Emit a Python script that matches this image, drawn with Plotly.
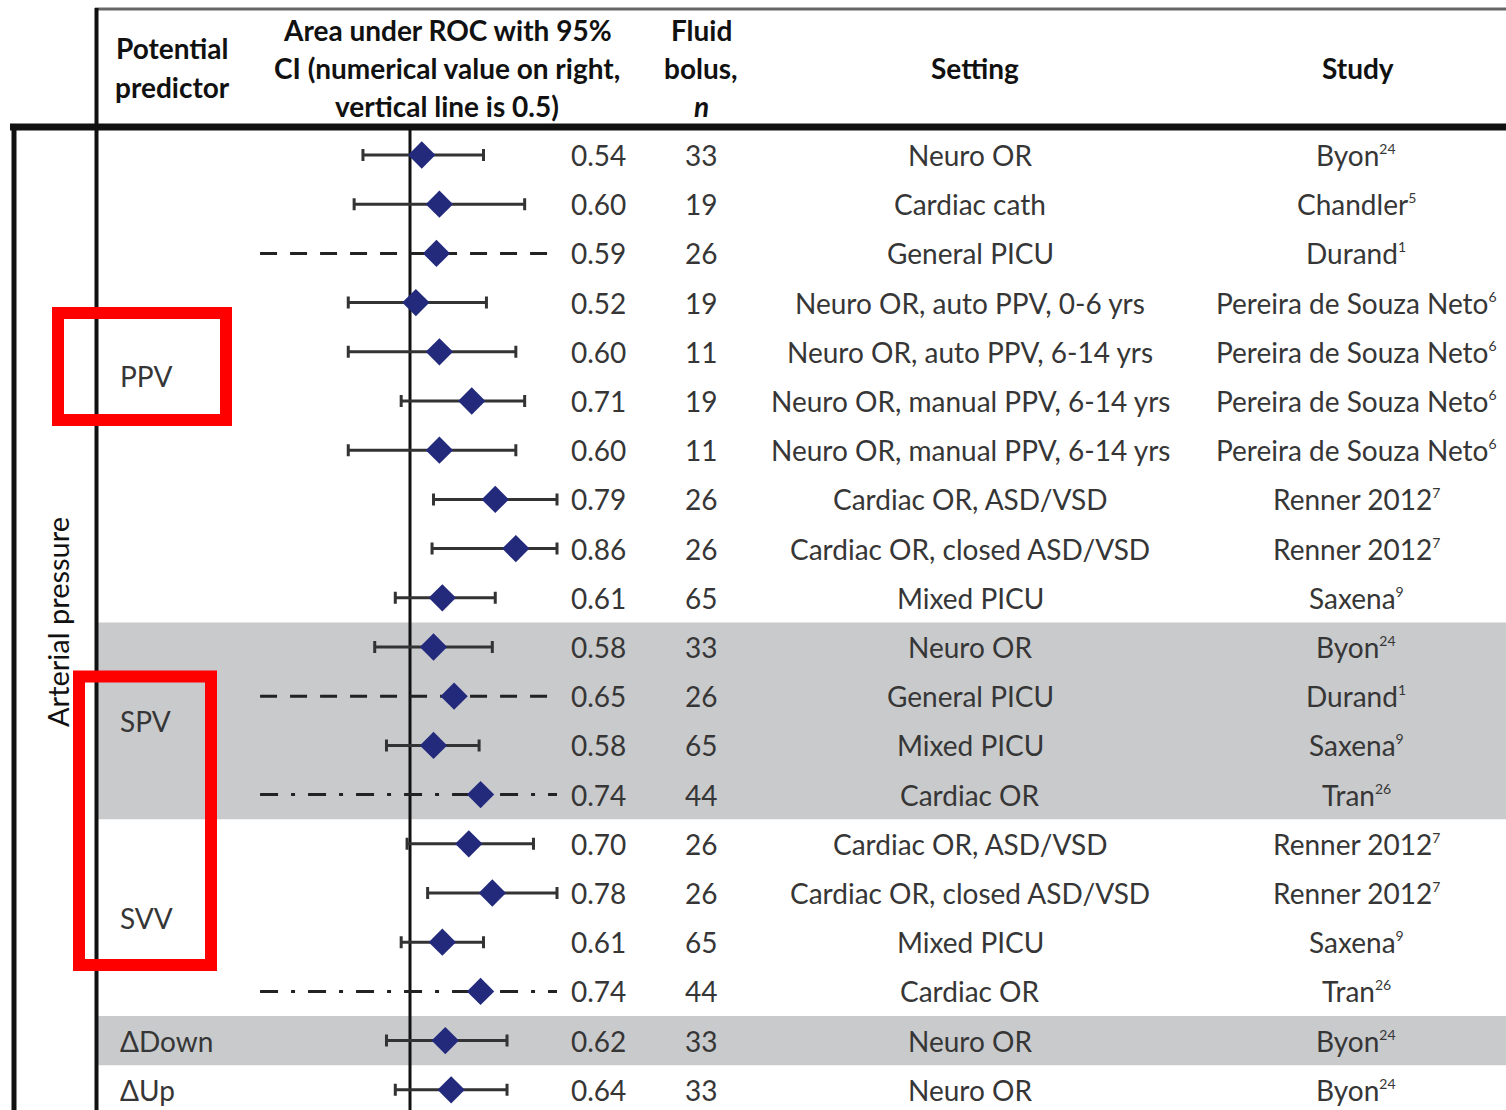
import plotly.graph_objects as go

# ---- data -------------------------------------------------------------
auc = [0.54, 0.60, 0.59, 0.52, 0.60, 0.71, 0.60, 0.79, 0.86, 0.61,
       0.58, 0.65, 0.58, 0.74, 0.70, 0.78, 0.61, 0.74, 0.62, 0.64]
ci_lo = [0.34, 0.31, None, 0.29, 0.29, 0.47, 0.29, 0.58, 0.575, 0.45,
         0.38, None, 0.42, None, 0.49, 0.56, 0.47, None, 0.42, 0.45]
ci_hi = [0.75, 0.89, None, 0.76, 0.86, 0.89, 0.86, 1.00, 1.00, 0.79,
         0.78, None, 0.735, None, 0.92, 1.00, 0.75, None, 0.83, 0.83]
# how the interval is drawn: reported CI, or a placeholder when not reported
ci_kind = ["ci", "ci", "dash", "ci", "ci", "ci", "ci", "ci", "ci", "ci",
           "ci", "dash", "ci", "dashdot", "ci", "ci", "ci", "dashdot", "ci", "ci"]
bolus_n = [33, 19, 26, 19, 11, 19, 11, 26, 26, 65,
           33, 26, 65, 44, 26, 26, 65, 44, 33, 33]
setting = [
    "Neuro OR", "Cardiac cath", "General PICU",
    "Neuro OR, auto PPV, 0-6 yrs", "Neuro OR, auto PPV, 6-14 yrs",
    "Neuro OR, manual PPV, 6-14 yrs", "Neuro OR, manual PPV, 6-14 yrs",
    "Cardiac OR, ASD/VSD", "Cardiac OR, closed ASD/VSD", "Mixed PICU",
    "Neuro OR", "General PICU", "Mixed PICU", "Cardiac OR",
    "Cardiac OR, ASD/VSD", "Cardiac OR, closed ASD/VSD", "Mixed PICU", "Cardiac OR",
    "Neuro OR", "Neuro OR",
]
study_author = [
    "Byon", "Chandler", "Durand",
    "Pereira de Souza Neto", "Pereira de Souza Neto",
    "Pereira de Souza Neto", "Pereira de Souza Neto",
    "Renner 2012", "Renner 2012", "Saxena",
    "Byon", "Durand", "Saxena", "Tran",
    "Renner 2012", "Renner 2012", "Saxena", "Tran",
    "Byon", "Byon",
]
study_ref = ["24", "5", "1", "6", "6", "6", "6", "7", "7", "9",
             "24", "1", "9", "26", "7", "7", "9", "26", "24", "24"]
# predictor groups: (label, first row, last row, shaded)
groups = [("PPV", 0, 9, False), ("SPV", 10, 13, True), ("SVV", 14, 17, False),
          ("ΔDown", 18, 18, True), ("ΔUp", 19, 19, False)]
category = "Arterial pressure"
reference_auc = 0.5

# ---- layout helpers ---------------------------------------------------
W, H = 1506, 1110
FONT = "Lato"
FS = 28
TXT = "#363636"
ROW0_PX, ROW_STEP = 155.0, 49.2      # pixel centre of first row, row pitch
X_PER_AUC, X_AT_HALF = 294.0, 410.0  # horizontal scale of the forest column
NO_CI_SPAN = (-0.01, 1.0)            # placeholder line when no CI reported


def px(x):
    return x / W


def py(y):
    return 1 - y / H


rows = list(range(len(auc)))
fig = go.Figure()

# reported confidence intervals with end caps
ci_rows = [r for r in rows if ci_kind[r] == "ci"]
fig.add_trace(go.Scatter(
    x=[auc[r] for r in ci_rows], y=ci_rows, mode="markers",
    marker=dict(size=1, color="rgba(0,0,0,0)"),
    error_x=dict(type="data", symmetric=False,
                 array=[ci_hi[r] - auc[r] for r in ci_rows],
                 arrayminus=[auc[r] - ci_lo[r] for r in ci_rows],
                 color="#333333", thickness=3, width=6),
    hoverinfo="skip", showlegend=False,
))

# placeholder lines where no interval was reported
dash_style = {"dash": "17px,13px", "dashdot": "18px,13px,4px,13px"}
for r in rows:
    if ci_kind[r] != "ci":
        fig.add_trace(go.Scatter(
            x=list(NO_CI_SPAN), y=[r, r], mode="lines",
            line=dict(color="#222222", width=3, dash=dash_style[ci_kind[r]]),
            hoverinfo="skip", showlegend=False,
        ))

# point estimates
fig.add_trace(go.Scatter(
    x=auc, y=rows, mode="markers",
    marker=dict(symbol="diamond", size=21, color="#232a7c", line=dict(width=0)),
    showlegend=False,
))

# ---- shapes: bands, rules, reference line, highlight boxes -------------
shapes = []
for label, r0, r1, shaded in groups:
    if shaded:
        shapes.append(dict(type="rect", xref="paper", yref="y", layer="below",
                           x0=px(98), x1=1, y0=r0 - 0.5, y1=r1 + 0.5,
                           fillcolor="#c9cacc", line=dict(width=0)))

shapes.append(dict(type="line", xref="x", yref="paper", layer="below",
                   x0=reference_auc, x1=reference_auc, y0=py(126), y1=0,
                   line=dict(color="#111111", width=3)))
# table rules
shapes += [
    dict(type="line", xref="paper", yref="paper", x0=px(95), x1=1,
         y0=py(9), y1=py(9), line=dict(color="#666666", width=3)),
    dict(type="line", xref="paper", yref="paper", x0=px(96.5), x1=px(96.5),
         y0=py(8), y1=0, line=dict(color="#111111", width=4)),
    dict(type="line", xref="paper", yref="paper", x0=px(10), x1=1,
         y0=py(127), y1=py(127), line=dict(color="#111111", width=7)),
    dict(type="line", xref="paper", yref="paper", x0=px(14), x1=px(14),
         y0=py(124), y1=0, line=dict(color="#111111", width=5)),
]
# red highlight boxes
shapes += [
    dict(type="rect", xref="paper", yref="paper", x0=px(58), x1=px(226),
         y0=py(313), y1=py(420), line=dict(color="#ff0000", width=12),
         fillcolor="rgba(0,0,0,0)"),
    dict(type="rect", xref="paper", yref="paper", x0=px(79), x1=px(211),
         y0=py(676.5), y1=py(965), line=dict(color="#ff0000", width=12),
         fillcolor="rgba(0,0,0,0)"),
]

# ---- text --------------------------------------------------------------
ann = []


def add_text(text, x, y, yref="y", xanchor="center", size=FS, color=TXT, angle=0):
    ann.append(dict(text=text, x=px(x), y=y, xref="paper", yref=yref,
                    xanchor=xanchor, yanchor="middle", showarrow=False,
                    textangle=angle,
                    font=dict(family=FONT, size=size, color=color)))


# header
for txt, x, y in [
    ("<b>Potential</b>", 172, 48), ("<b>predictor</b>", 172, 87),
    ("<b>Area under ROC with 95%</b>", 447, 30),
    ("<b>CI (numerical value on right,</b>", 447, 68),
    ("<b>vertical line is 0.5)</b>", 447, 106),
    ("<b>Fluid</b>", 701, 30), ("<b>bolus,</b>", 701, 68), ("<b><i>n</i></b>", 701, 106),
    ("<b>Setting</b>", 975, 68), ("<b>Study</b>", 1358, 68),
]:
    add_text(txt, x, py(y), yref="paper", color="#111111")

# body rows
for r in rows:
    add_text(f"{auc[r]:.2f}", 628, r, xanchor="right")
    add_text(str(bolus_n[r]), 701, r)
    add_text(setting[r], 970, r)
    add_text(f"{study_author[r]}<sup><span style='font-size:14px'>"
             f"{study_ref[r]}</span></sup>", 1356, r)

# predictor labels
for label, r0, r1, shaded in groups:
    add_text(label, 118, (r0 + r1) / 2, xanchor="left")

# category label
add_text(category, 57, py(622), yref="paper", angle=-90, color="#111111", size=29)

fig.update_layout(
    width=W, height=H, margin=dict(l=0, r=0, t=0, b=0),
    paper_bgcolor="white", plot_bgcolor="white",
    xaxis=dict(range=[reference_auc - X_AT_HALF / X_PER_AUC,
                      reference_auc + (W - X_AT_HALF) / X_PER_AUC],
               visible=False, fixedrange=True),
    yaxis=dict(range=[(H - ROW0_PX) / ROW_STEP, -ROW0_PX / ROW_STEP],
               visible=False, fixedrange=True),
    shapes=shapes, annotations=ann,
)

fig.write_html("out.html")
